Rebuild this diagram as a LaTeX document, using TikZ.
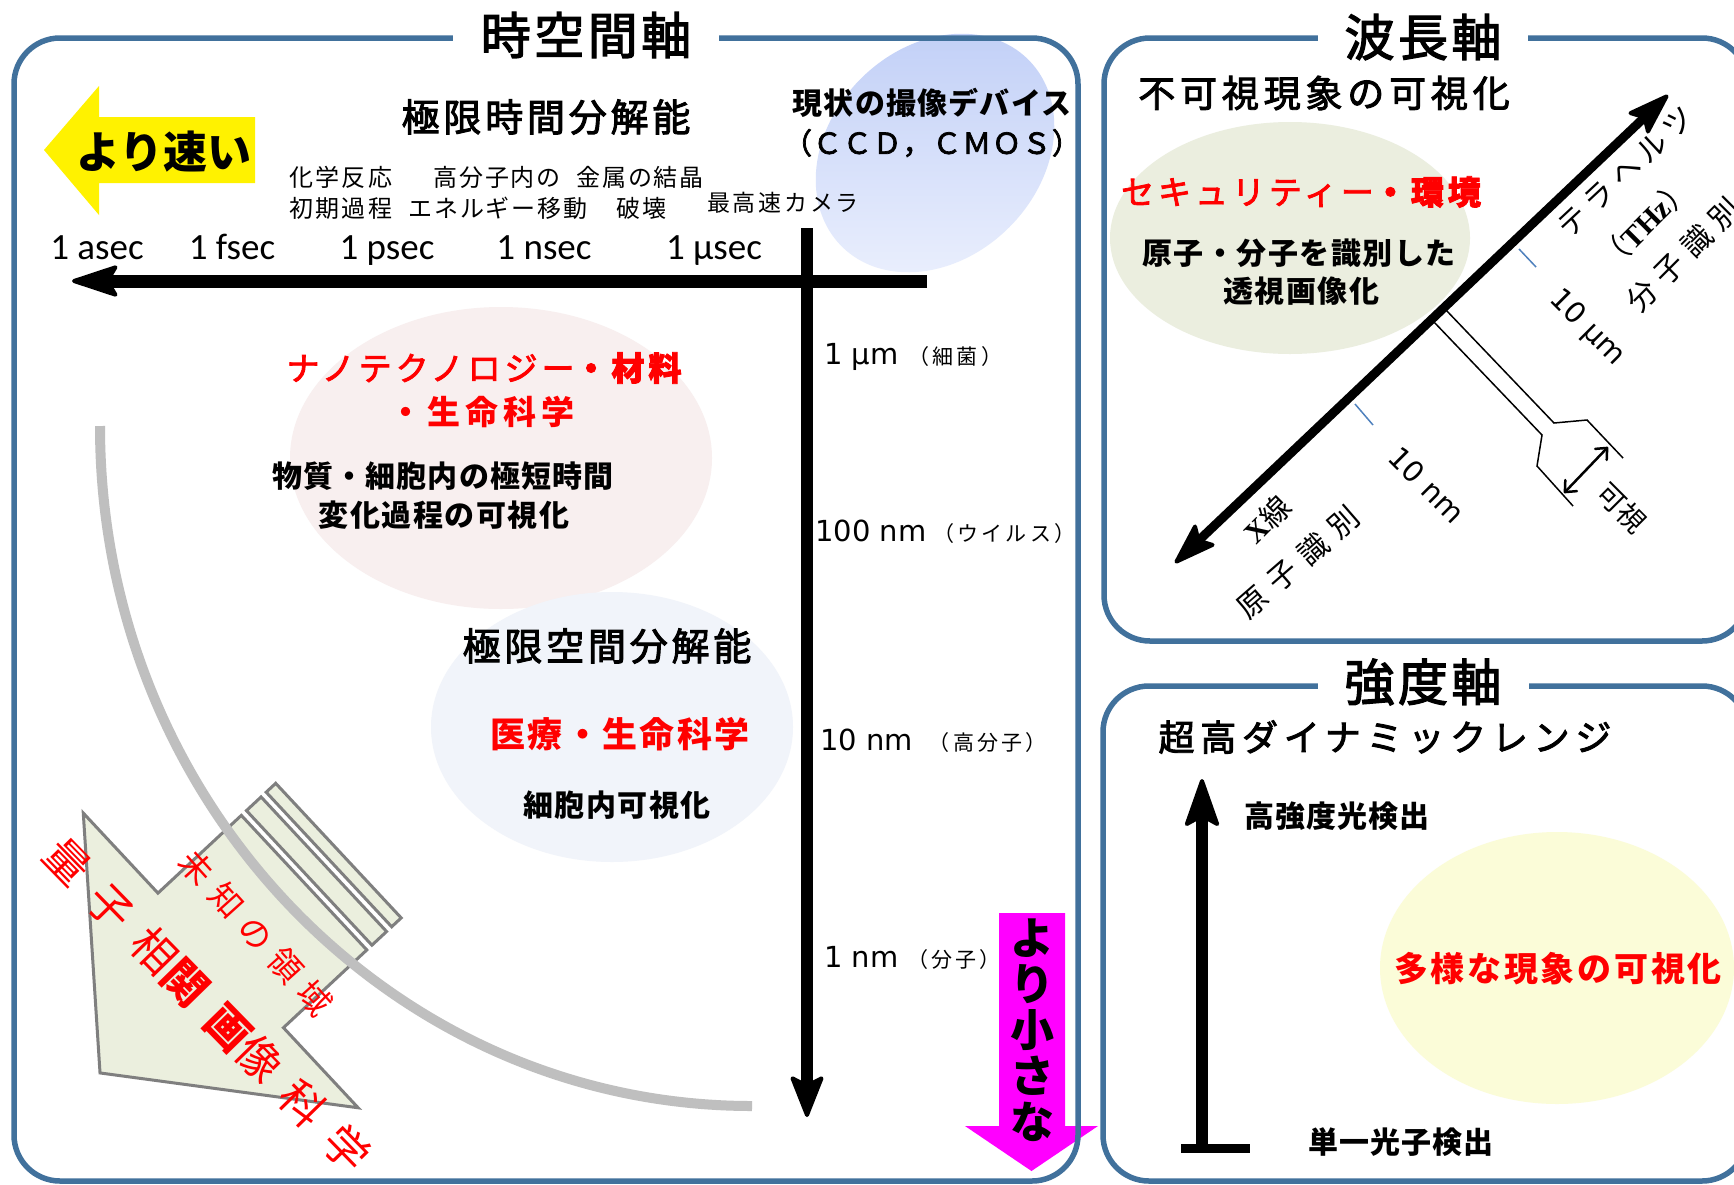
\documentclass[tikz,border=0pt]{standalone}
\usepackage{fontspec}
\setmainfont{Noto Sans CJK JP}
\newfontfamily\calfont{Carlito}
\newfontfamily\dvfont{DejaVu Sans}
\newfontfamily\tmsfont{Liberation Serif}
\usetikzlibrary{arrows.meta}
\definecolor{pborder}{HTML}{41719C}
\definecolor{pinkbg}{HTML}{F8EFEF}
\definecolor{bluebg}{HTML}{F1F4FA}
\definecolor{greenbg}{HTML}{EBEEDF}
\definecolor{yellowbg}{HTML}{FBFCD8}
\definecolor{ccdtop}{HTML}{C2D0F7}
\definecolor{ccdbot}{HTML}{EAEFFD}
\definecolor{arrowgreen}{HTML}{EBEFDE}
\definecolor{arrowedge}{HTML}{7F7F7F}
\definecolor{arcgray}{HTML}{BFBFBF}
\definecolor{tickblue}{HTML}{4F81BD}
\definecolor{jred}{HTML}{FF0000}
\definecolor{magentaarrow}{HTML}{FF00FF}
\newcommand\fsz[1]{\fontsize{#1}{#1}\selectfont}
\newcommand\lsp[1]{\addfontfeature{LetterSpace=#1}}
\newcommand\semib{\addfontfeature{FakeBold=2.5}}
\begin{document}
\begin{tikzpicture}[x=1pt,y=-1pt,
  txt/.style={inner sep=0pt, align=center},
  panel/.style={draw=pborder, line width=5.5pt, rounded corners=46pt},
  paneltitle/.style={txt, fill=white, minimum height=52pt},
  timeaxis/.style={line width=13pt, -{Stealth[length=52pt,width=34pt,inset=10pt,round,line width=4pt]}},
  spaceaxis/.style={line width=12pt, -{Stealth[length=46pt,width=36pt,inset=9pt,round,line width=4pt]}},
  intaxis/.style={line width=12pt, -{Stealth[length=53pt,width=37pt,inset=10pt,round,line width=4pt]}},
  waveaxis/.style={line width=9pt, {Stealth[length=48pt,width=32pt,inset=9pt,round,line width=4pt]}-{Stealth[length=48pt,width=32pt,inset=9pt,round,line width=4pt]}},
  thin/.style={line width=1.5pt},
  garrow/.style={draw=arrowedge, fill=arrowgreen, line width=3pt},
  tick/.style={draw=tickblue, line width=1.5pt}
]
\useasboundingbox (0,0) rectangle (1734,1184);
\clip (0,0) rectangle (1734,1184);
\fill[white] (0,0) rectangle (1734,1184);

% ---------- background ellipses ----------
\begin{scope}
  \clip[rotate around={45:(935,153)}] (935,153) ellipse [x radius=132, y radius=105];
  \shade[top color=ccdtop, bottom color=ccdbot] (790,30) rectangle (1090,280);
\end{scope}
\fill[pinkbg] (501,458) ellipse [x radius=211, y radius=151];
\fill[bluebg] (612,727) ellipse [x radius=181, y radius=135];
\fill[greenbg] (1290,238) ellipse [x radius=180, y radius=116];
\fill[yellowbg] (1557,968) ellipse [x radius=177, y radius=136];

% ---------- magenta arrow ----------
\fill[magentaarrow] (999,913) -- (1065,913) -- (1065,1126) -- (1098,1126) -- (1031.5,1171) -- (965,1126) -- (999,1126) -- cycle;
\node[txt, font={\bfseries\fontsize{44}{46}\selectfont}] (smaller) at (1032,1030) {よ\\り\\小\\さ\\な};

% ---------- panels ----------
\draw[panel] (14,38) rectangle (1078,1181);
\draw[panel] (1104,38) rectangle (1748,641);
\draw[panel] (1103,686) rectangle (1748,1181);
\node[paneltitle, minimum width=266pt, font={\fsz{50}\lsp{7}\semib}] (tsp) at (586,35) {時空間軸};
\node[paneltitle, minimum width=210pt, font={\fsz{50}\lsp{7}\semib}] (twl) at (1423,37) {波長軸};
\node[paneltitle, minimum width=211pt, font={\fsz{50}\lsp{7}\semib}] (tin) at (1423,682) {強度軸};

% ---------- left panel ----------
\fill[yellow] (44,150) -- (99,86) -- (99,117) -- (255,117) -- (255,183) -- (99,183) -- (99,215) -- cycle;
\node[txt, font={\bfseries\fsz{44}}] (fast) at (164,152) {より速い};
\node[txt, font={\fsz{38}\lsp{10}\semib}] (ktime) at (546,117) {極限時間分解能};

\node[txt, anchor=west, font={\fsz{24}\lsp{10}}] (ev1a) at (289,177) {化学反応};
\node[txt, anchor=west, font={\fsz{24}\lsp{10}}] (ev1b) at (289,208) {初期過程};
\node[txt, anchor=west, font={\fsz{24}\lsp{8}}] (ev2a) at (433,177) {高分子内の};
\node[txt, anchor=west, font={\fsz{24}\lsp{8}}] (ev2b) at (408,208) {エネルギー移動};
\node[txt, anchor=west, font={\fsz{24}\lsp{8}}] (ev3a) at (576,177) {金属の結晶};
\node[txt, anchor=west, font={\fsz{24}\lsp{8}}] (ev3b) at (616,208) {破壊};
\node[txt, anchor=west, font={\fsz{23}\lsp{12}}] (ev4) at (707,203) {最高速カメラ};

\node[txt, font={\bfseries\fsz{30}\lsp{4}}] (ccd1) at (932,103) {現状の撮像デバイス};
\node[txt, font={\fsz{29}\lsp{3}\semib}] (ccd2) at (932,143) {（ＣＣＤ，ＣＭＯＳ）};

\node[txt, anchor=base, font={\calfont\fsz{37}}] (ta) at (97,259) {1 asec};
\node[txt, anchor=base, font={\calfont\fsz{37}}] (tf) at (232,259) {1 fsec};
\node[txt, anchor=base, font={\calfont\fsz{37}}] (tp) at (387,259) {1 psec};
\node[txt, anchor=base, font={\calfont\fsz{37}}] (tn) at (544,259) {1 nsec};
\node[txt, anchor=base, font={\calfont\fsz{37}}] (tu) at (714,259) {1 µsec};

\coordinate (hstart) at (927,281);
\coordinate (hend) at (72,281);
\coordinate (vstart) at (807,228);
\coordinate (vend) at (807,1117);
\draw[timeaxis] (hstart) -- (hend);
\draw[spaceaxis] (vstart) -- (vend);

\node[txt, anchor=west] (s1) at (824,357) {\dvfont\fsz{29}1 µm\hspace{10pt}{\normalfont\fsz{21}\lsp{15}（細菌）}};
\node[txt, anchor=west] (s2) at (815,532) {\dvfont\fsz{29}100 nm\hspace{7pt}{\normalfont\fsz{21}\lsp{15}（ウイルス）}};
\node[txt, anchor=west] (s3) at (820,741) {\dvfont\fsz{29}10 nm\hspace{16pt}{\normalfont\fsz{21}\lsp{15}（高分子）}};
\node[txt, anchor=west] (s4) at (824,958) {\dvfont\fsz{29}1 nm\hspace{9pt}{\normalfont\fsz{21}\lsp{15}（分子）}};

\node[txt, font={\fsz{33}\lsp{12}\semib}, text=jred] (nano1) at (484,368) {ナノテクノロジー{\bfseries ・材料}};
\node[txt, font={\bfseries\fsz{33}\lsp{15}}, text=jred] (nano2) at (482,412) {・生命科学};
\node[txt, font={\bfseries\fsz{30}\lsp{4}}] (mat1) at (443,476) {物質・細胞内の極短時間};
\node[txt, font={\bfseries\fsz{30}\lsp{5}}] (mat2) at (444,515) {変化過程の可視化};
\node[txt, font={\fsz{38}\lsp{10}\semib}] (kspace) at (607,646) {極限空間分解能};
\node[txt, font={\bfseries\fsz{35}\lsp{7}}, text=jred] (med) at (620,734) {医療・生命科学};
\node[txt, font={\bfseries\fsz{30}\lsp{5}}] (cell) at (617,805) {細胞内可視化};

% striped green arrow
\begin{scope}[shift={(220.7,960.4)}, rotate=223]
  \draw[garrow] (165,0) -- (0,201.5) -- (0,92) -- (-114,92) -- (-114,-92) -- (0,-92) -- (0,-201.5) -- cycle;
  \draw[garrow] (-121,-92) rectangle (-141,92);
  \draw[garrow] (-148,-92) rectangle (-161,92);
\end{scope}
% gray arc
\draw[arcgray, line width=10pt] (100,426) arc[start angle=180, end angle=90, x radius=652, y radius=680];

\node[txt, rotate=-45.7, text=jred, font={\fsz{44}\lsp{42}}] (qci) at (207,1005) {量子相{\bfseries 関画}像科学};
\node[txt, rotate=-48, text=jred, font={\fsz{33}\lsp{33}}] (unknown) at (256,933) {未知の領域};

% ---------- right top panel ----------
\node[txt, font={\fsz{37}\lsp{13}\semib}] (inv) at (1324,93) {不可視現象の可視化};
\node[txt, font={\fsz{33}\lsp{12}\semib}, text=jred] (sec) at (1301,192) {セキュリティー{\bfseries ・環境}};
\node[txt, font={\bfseries\fsz{30}\lsp{5}}] (atom1) at (1299,253) {原子・分子を識別した};
\node[txt, font={\bfseries\fsz{30}\lsp{5}}] (atom2) at (1301,291) {透視画像化};

\draw[thin] (1445,309) -- (1554,423) -- (1587,420) -- (1623,458);
\draw[thin] (1433,321) -- (1542,435) -- (1537,466) -- (1573,506);
\draw[tick] (1519,249) -- (1536,267);
\draw[tick] (1355,404) -- (1373,425);
\coordinate (wlo) at (1175,563);
\coordinate (whi) at (1668,95);
\draw[waveaxis] (wlo) -- (whi);
\coordinate (vis1) at (1564,493);
\coordinate (vis2) at (1608,447);
\draw[line width=2.5pt, {Straight Barb[length=9pt,width=16pt,round]}-{Straight Barb[length=9pt,width=16pt,round]}] (vis1) -- (vis2);

\node[txt, rotate=43, font={\fsz{30}\lsp{20}}] (thz1) at (1626,172) {テラヘルツ};
\node[txt, rotate=45, font={\fsz{30}}] (thz2) at (1645,223) {（{\tmsfont\bfseries THz}）};
\node[txt, rotate=45, font={\fsz{30}\lsp{30}}] (molid) at (1683,255) {分子識別};
\node[txt, rotate=-45, font={\dvfont\fsz{29}}] (um10) at (1587,328) {10 µm};
\node[txt, rotate=-45, font={\dvfont\fsz{29}}] (nm10) at (1427,485) {10 nm};
\node[txt, rotate=45, font={\fsz{30}}] (xray) at (1267,519) {{\tmsfont\bfseries X}線};
\node[txt, rotate=41, font={\fsz{30}\lsp{35}}] (atomid) at (1298,562) {原子識別};
\node[txt, rotate=-45, font={\fsz{28}}] (visible) at (1622,508) {可視};

% ---------- right bottom panel ----------
\node[txt, font={\fsz{36}\lsp{16}\semib}] (dr) at (1385,737) {超高ダイナミックレンジ};
\coordinate (ilo) at (1202,1148);
\coordinate (ihi) at (1202,779);
\draw[intaxis] (ilo) -- (ihi);
\coordinate (barl) at (1181,1148);
\coordinate (barr) at (1250,1148);
\draw[line width=9pt] (barl) -- (barr);
\node[txt, font={\bfseries\fsz{30}\lsp{4}}] (hi) at (1337,816) {高強度光検出};
\node[txt, font={\bfseries\fsz{30}\lsp{4}}] (lo) at (1401,1142) {単一光子検出};
\node[txt, font={\bfseries\fsz{34}\lsp{8}}, text=jred] (div) at (1558,969) {多様な現象の可視化};
\end{tikzpicture}
\end{document}
